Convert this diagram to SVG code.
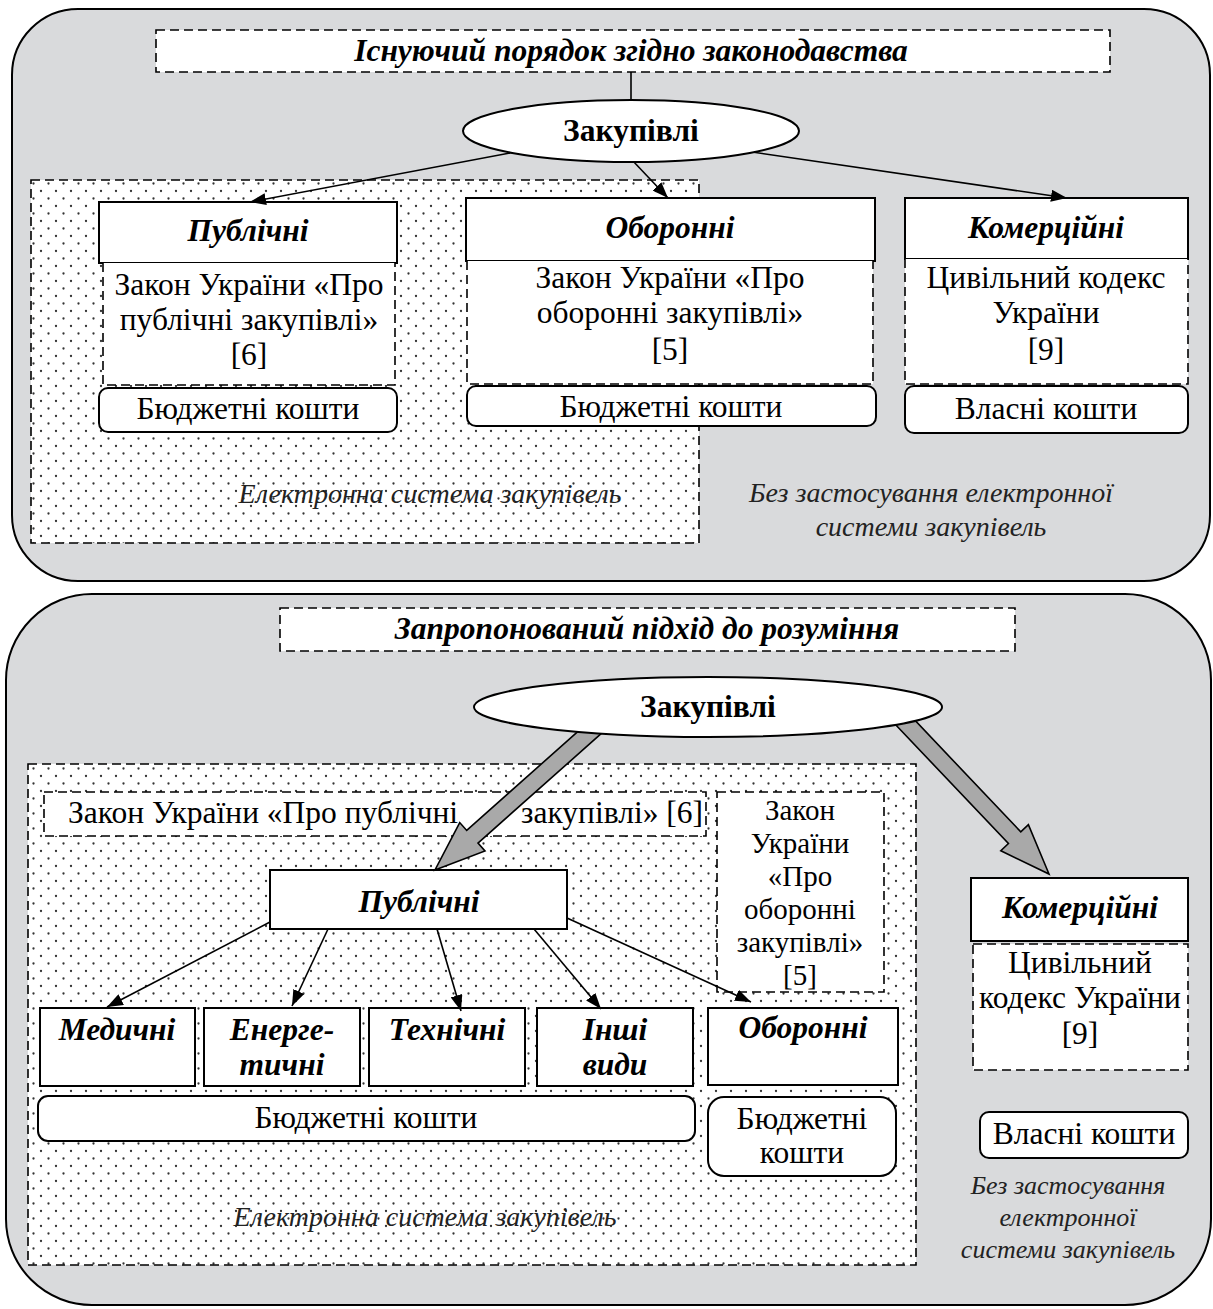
<svg xmlns="http://www.w3.org/2000/svg" width="1213" height="1309" viewBox="0 0 1213 1309">
<defs>
<pattern id="dots" patternUnits="userSpaceOnUse" width="15" height="15">
<rect width="15" height="15" fill="#ffffff"/>
<circle cx="3.5" cy="3.5" r="1.15" fill="#333"/>
<circle cx="11" cy="11" r="1.15" fill="#333"/>
</pattern>
<marker id="ah" viewBox="0 0 16 12" refX="16" refY="6" markerWidth="16" markerHeight="12" markerUnits="userSpaceOnUse" orient="auto">
<path d="M0,0 L16,6 L0,12 z" fill="#000"/>
</marker>
<style>
.panel{fill:#d9dadc;stroke:#000;stroke-width:2}
.dashed{fill:#fff;stroke:#000;stroke-width:1.6;stroke-dasharray:9 5}
.zone{fill:url(#dots);stroke:#000;stroke-width:1.6;stroke-dasharray:9 5}
.box{fill:#fff;stroke:#000;stroke-width:2}
.ell{fill:#fff;stroke:#000;stroke-width:2}
.conn{fill:none;stroke:#000;stroke-width:1.6}
.big{fill:#a9a9a9;stroke:#000;stroke-width:1.6;stroke-linejoin:miter}
text{font-family:"Liberation Serif","Times New Roman",serif;fill:#000;text-anchor:middle}
.t{font-size:31.5px}
.ts{font-size:29px}
.bi{font-size:31.5px;font-weight:bold;font-style:italic}
.b{font-size:31.5px;font-weight:bold}
.i{font-size:28px;font-style:italic;fill:#222}
.is{font-size:26px;font-style:italic;fill:#222}
</style>
</defs>

<!-- ================= TOP PANEL ================= -->
<g id="panel-top">
<rect class="panel" x="12" y="9" width="1198" height="572" rx="66" ry="66"/>
</g>
<g id="zone-top">
<rect class="zone" x="31" y="180" width="668" height="363"/>
<text class="i" x="430" y="503">Електронна система закупівель</text>
</g>
<g id="title-top">
<rect class="dashed" x="156" y="30" width="954" height="42"/>
<text class="bi" x="631" y="61">Існуючий порядок згідно законодавства</text>
</g>
<g id="pub-top">
<rect class="box" x="99" y="202" width="298" height="61"/>
<text class="bi" x="248" y="241">Публічні</text>
</g>
<g id="pub-law-top">
<path class="dashed" d="M103,263 V385 H395 V263"/>
<text class="t" x="249" y="295">Закон України «Про</text>
<text class="t" x="249" y="330">публічні закупівлі»</text>
<text class="t" x="249" y="365">[6]</text>
</g>
<g id="pub-money-top">
<rect class="box" x="99" y="388" width="298" height="44" rx="9"/>
<text class="t" x="248" y="419">Бюджетні кошти</text>
</g>
<g id="def-top">
<rect class="box" x="466" y="198" width="409" height="63"/>
<text class="bi" x="670" y="238">Оборонні</text>
</g>
<g id="def-law-top">
<path class="dashed" d="M467,261 V384 H873 V261"/>
<text class="t" x="670" y="288">Закон України «Про</text>
<text class="t" x="670" y="323">оборонні закупівлі»</text>
<text class="t" x="670" y="360">[5]</text>
</g>
<g id="def-money-top">
<rect class="box" x="467" y="386" width="409" height="40" rx="9"/>
<text class="t" x="671" y="417">Бюджетні кошти</text>
</g>
<g id="com-top">
<rect class="box" x="905" y="198" width="283" height="61"/>
<text class="bi" x="1046" y="238">Комерційні</text>
</g>
<g id="com-law-top">
<path class="dashed" d="M905,259 V384 H1188 V259"/>
<text class="t" x="1046" y="288">Цивільний кодекс</text>
<text class="t" x="1046" y="323">України</text>
<text class="t" x="1046" y="360">[9]</text>
</g>
<g id="com-money-top">
<rect class="box" x="905" y="386" width="283" height="47" rx="9"/>
<text class="t" x="1046" y="419">Власні кошти</text>
</g>
<g id="note-top">
<text class="i" x="931" y="502">Без застосування електронної</text>
<text class="i" x="931" y="536">системи закупівель</text>
</g>
<g id="connectors-top">
<line class="conn" x1="631" y1="72" x2="631" y2="100"/>
<line class="conn" x1="510" y1="153" x2="250" y2="202" marker-end="url(#ah)"/>
<line class="conn" x1="632" y1="160" x2="668" y2="198" marker-end="url(#ah)"/>
<line class="conn" x1="752" y1="152" x2="1067" y2="198" marker-end="url(#ah)"/>
</g>
<g id="proc-top">
<ellipse class="ell" cx="631" cy="131" rx="168" ry="31"/>
<text class="b" x="631" y="141">Закупівлі</text>
</g>

<!-- ================= BOTTOM PANEL ================= -->
<g id="panel-bottom">
<rect class="panel" x="6" y="594" width="1205" height="711" rx="86" ry="86"/>
</g>
<g id="title-bottom">
<rect class="dashed" x="280" y="608" width="735" height="43"/>
<text class="bi" x="647" y="639">Запропонований підхід до розуміння</text>
</g>
<g id="zone-bottom">
<rect class="zone" x="28" y="764" width="888" height="501"/>
<text class="i" x="425" y="1226">Електронна система закупівель</text>
</g>
<g id="pub-law-bottom">
<rect class="dashed" x="44" y="792" width="662" height="44"/>
<text class="t" x="68" y="823" style="text-anchor:start">Закон України «Про публічні</text>
<text class="t" x="703" y="823" style="text-anchor:end">закупівлі» [6]</text>
</g>
<g id="def-law-bottom">
<rect class="dashed" x="717" y="792" width="167" height="200"/>
<text class="ts" x="800" y="820">Закон</text>
<text class="ts" x="800" y="853">України</text>
<text class="ts" x="800" y="886">«Про</text>
<text class="ts" x="800" y="919">оборонні</text>
<text class="ts" x="800" y="952">закупівлі»</text>
<text class="ts" x="800" y="985">[5]</text>
</g>
<g id="pub-bottom">
<rect class="box" x="270" y="870" width="297" height="59"/>
<text class="bi" x="419" y="912">Публічні</text>
</g>
<g id="med">
<rect class="box" x="40" y="1008" width="155" height="78"/>
<text class="bi" x="117" y="1040">Медичні</text>
</g>
<g id="energy">
<rect class="box" x="204" y="1008" width="156" height="78"/>
<text class="bi" x="282" y="1040">Енерге-</text>
<text class="bi" x="282" y="1075">тичні</text>
</g>
<g id="tech">
<rect class="box" x="369" y="1008" width="156" height="78"/>
<text class="bi" x="447" y="1040">Технічні</text>
</g>
<g id="other">
<rect class="box" x="537" y="1008" width="156" height="78"/>
<text class="bi" x="615" y="1040">Інші</text>
<text class="bi" x="615" y="1075">види</text>
</g>
<g id="def-bottom">
<rect class="box" x="708" y="1008" width="190" height="77"/>
<text class="bi" x="803" y="1038">Оборонні</text>
</g>
<g id="money-pub-bottom">
<rect class="box" x="38" y="1096" width="657" height="45" rx="10"/>
<text class="t" x="366" y="1128">Бюджетні кошти</text>
</g>
<g id="money-def-bottom">
<rect class="box" x="708" y="1097" width="188" height="79" rx="16"/>
<text class="t" x="802" y="1129">Бюджетні</text>
<text class="t" x="802" y="1163">кошти</text>
</g>
<g id="com-bottom">
<rect class="box" x="971" y="878" width="217" height="63"/>
<text class="bi" x="1080" y="918">Комерційні</text>
</g>
<g id="com-law-bottom">
<rect class="dashed" x="973" y="944" width="215" height="126"/>
<text class="t" x="1080" y="973">Цивільний</text>
<text class="t" x="1080" y="1008">кодекс України</text>
<text class="t" x="1080" y="1044">[9]</text>
</g>
<g id="com-money-bottom">
<rect class="box" x="980" y="1112" width="208" height="46" rx="9"/>
<text class="t" x="1084" y="1144">Власні кошти</text>
</g>
<g id="note-bottom">
<text class="is" x="1068" y="1194">Без застосування</text>
<text class="is" x="1068" y="1226">електронної</text>
<text class="is" x="1068" y="1258">системи закупівель</text>
</g>
<g id="connectors-bottom">
<polygon class="big" points="594.6,716.6 466.71,830.41 459.73,822.56 435,870 484.99,850.96 478.01,843.11 605.9,729.4"/>
<polygon class="big" points="888.5,717.2 1008.43,843.56 1000.81,850.78 1049,874 1028.39,824.64 1020.77,831.86 900.9,705.5"/>
<line class="conn" x1="270" y1="922" x2="107" y2="1007" marker-end="url(#ah)"/>
<line class="conn" x1="328" y1="929" x2="292" y2="1006" marker-end="url(#ah)"/>
<line class="conn" x1="437" y1="929" x2="461" y2="1011" marker-end="url(#ah)"/>
<line class="conn" x1="534" y1="929" x2="601" y2="1009" marker-end="url(#ah)"/>
<line class="conn" x1="567" y1="918" x2="751" y2="1002" marker-end="url(#ah)"/>
</g>
<g id="proc-bottom">
<ellipse class="ell" cx="708" cy="707" rx="234" ry="30"/>
<text class="b" x="708" y="717">Закупівлі</text>
</g>
</svg>
